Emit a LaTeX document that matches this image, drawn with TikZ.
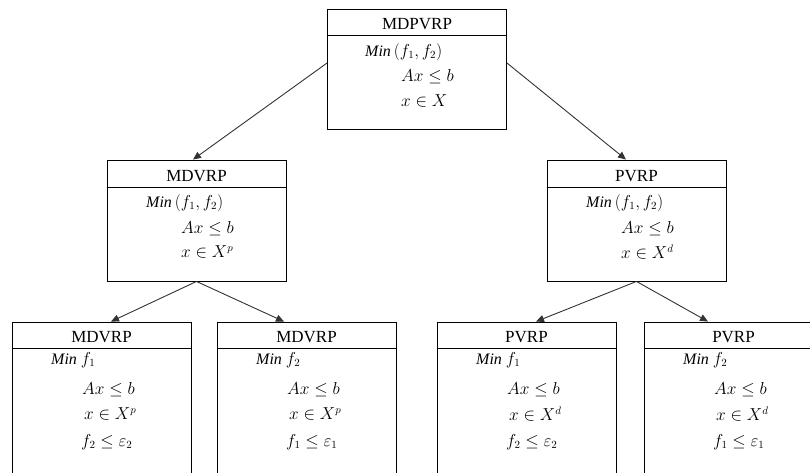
\documentclass[tikz,border=0pt]{standalone}
\usepackage{fontspec}
\setmainfont{Liberation Serif}
\usetikzlibrary{arrows.meta}
\newcommand{\MinTxt}{\textit{Min}}
\tikzset{
  box/.style={draw=black, line width=0.9pt, rectangle, inner sep=0pt, minimum width=179pt},
  hdr/.style={font=\fontsize{17}{19}\selectfont, anchor=center, inner sep=0pt},
  ln/.style={font=\fontsize{16}{18}\selectfont, anchor=west, inner sep=0pt},
  conn/.style={draw=black!80, line width=0.9pt, -{Triangle[length=8pt,width=7pt]}}
}
\begin{document}
\begin{tikzpicture}[x=1pt,y=-1pt]
\clip (0,0) rectangle (810,472);
\fill[white] (0,0) rectangle (810,472);
% top box
\node[box, minimum height=120pt] (top) at (417,69) {};
\draw[line width=0.9pt] ([yshift=-27pt]top.north west) -- ([yshift=-27pt]top.north east);
\node[hdr] (topH) at (417,24) {MDPVRP};
\node[ln] (topA) at (365,52) {$\MinTxt\,(f_1,f_2)$};
\node[ln] (topB) at (401,77) {$Ax \le b$};
\node[ln] (topC) at (401,101) {$x \in X$};
% middle left
\node[box, minimum height=121pt] (ml) at (196.5,220.5) {};
\draw[line width=0.9pt] ([yshift=-28pt]ml.north west) -- ([yshift=-28pt]ml.north east);
\node[hdr] (mlH) at (196.5,176) {MDVRP};
\node[ln] (mlA) at (146,203) {$\MinTxt\,(f_1,f_2)$};
\node[ln] (mlB) at (181,229) {$Ax \le b$};
\node[ln] (mlC) at (181,252) {$x \in X^{p}$};
% middle right
\node[box, minimum height=121pt] (mr) at (636.5,220.5) {};
\draw[line width=0.9pt] ([yshift=-28pt]mr.north west) -- ([yshift=-28pt]mr.north east);
\node[hdr] (mrH) at (636.5,176) {PVRP};
\node[ln] (mrA) at (586,203) {$\MinTxt\,(f_1,f_2)$};
\node[ln] (mrB) at (621,229) {$Ax \le b$};
\node[ln] (mrC) at (621,252) {$x \in X^{d}$};
% bottom boxes
\node[box, minimum height=170pt] (b1) at (101.5,407) {};
\draw[line width=0.9pt] ([yshift=-27pt]b1.north west) -- ([yshift=-27pt]b1.north east);
\node[hdr] (b1H) at (101.5,337) {MDVRP};
\node[ln] (b1A) at (51,360) {$\MinTxt\ f_1$};
\node[ln] (b1B) at (82,390) {$Ax \le b$};
\node[ln] (b1C) at (84,414) {$x \in X^{p}$};
\node[ln] (b1D) at (81,442) {$f_2 \le \varepsilon_2$};

\node[box, minimum height=170pt] (b2) at (306.5,407) {};
\draw[line width=0.9pt] ([yshift=-27pt]b2.north west) -- ([yshift=-27pt]b2.north east);
\node[hdr] (b2H) at (306.5,337) {MDVRP};
\node[ln] (b2A) at (256,360) {$\MinTxt\ f_2$};
\node[ln] (b2B) at (287,390) {$Ax \le b$};
\node[ln] (b2C) at (289,414) {$x \in X^{p}$};
\node[ln] (b2D) at (286,442) {$f_1 \le \varepsilon_1$};

\node[box, minimum height=170pt] (b3) at (526.5,407) {};
\draw[line width=0.9pt] ([yshift=-27pt]b3.north west) -- ([yshift=-27pt]b3.north east);
\node[hdr] (b3H) at (526.5,337) {PVRP};
\node[ln] (b3A) at (476,360) {$\MinTxt\ f_1$};
\node[ln] (b3B) at (507,390) {$Ax \le b$};
\node[ln] (b3C) at (509,414) {$x \in X^{d}$};
\node[ln] (b3D) at (506,442) {$f_2 \le \varepsilon_2$};

\node[box, minimum height=170pt] (b4) at (733.5,407) {};
\draw[line width=0.9pt] ([yshift=-27pt]b4.north west) -- ([yshift=-27pt]b4.north east);
\node[hdr] (b4H) at (733.5,337) {PVRP};
\node[ln] (b4A) at (683,360) {$\MinTxt\ f_2$};
\node[ln] (b4B) at (714,390) {$Ax \le b$};
\node[ln] (b4C) at (716,414) {$x \in X^{d}$};
\node[ln] (b4D) at (713,442) {$f_1 \le \varepsilon_1$};
% connectors
\draw[conn] ([yshift=6pt]top.west) -- ([xshift=-3.5pt]ml.north);
\draw[conn] ([yshift=6pt]top.east) -- ([xshift=-10.5pt]mr.north);
\draw[conn] (ml.south) -- ([xshift=9.5pt]b1.north);
\draw[conn] (ml.south) -- ([xshift=-22.5pt]b2.north);
\draw[conn] (mr.south) -- ([xshift=9.5pt]b3.north);
\draw[conn] (mr.south) -- ([xshift=-25.5pt]b4.north);
\end{tikzpicture}
\end{document}
